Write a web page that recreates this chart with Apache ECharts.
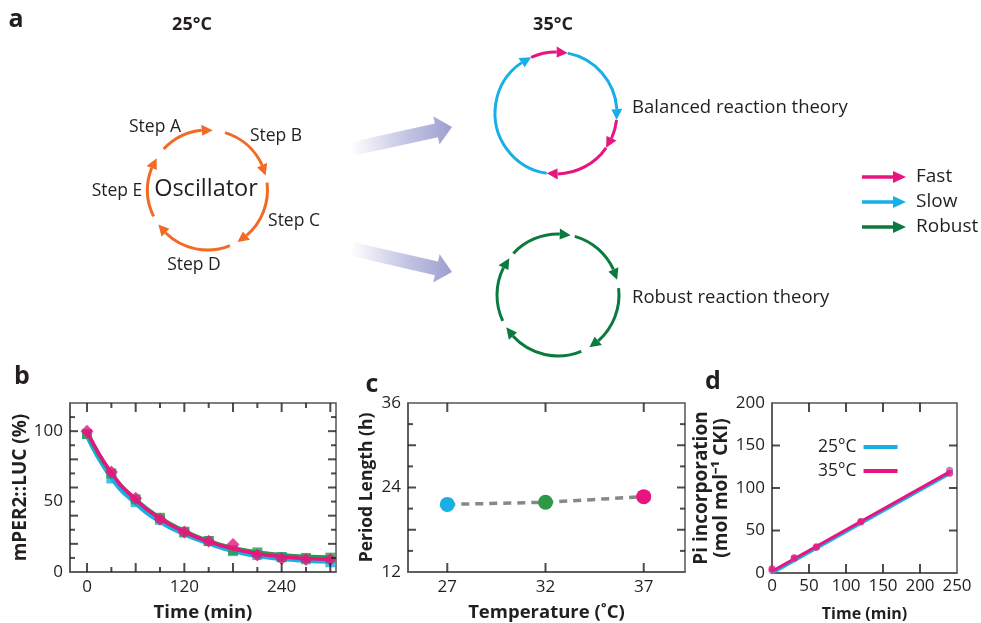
<!DOCTYPE html>
<html>
<head>
<meta charset="utf-8">
<script src="https://cdn.jsdelivr.net/npm/echarts@6/dist/echarts.min.js"></script>
<style>
  html, body { margin: 0; padding: 0; background: #fff; }
  #fig { width: 981px; height: 623px; }
</style>
</head>
<body>
<div id="fig"></div>
<script>
var FONT = 'Open Sans';
var INK = '#231f20';
var PINK = '#e8157f', CYAN = '#18aee6', GREEN = '#0b7a3e', GREEN2 = '#2e9848', ORANGE = '#f26a25';

// b: mPER2::LUC decay (%), measured points and fitted curves
var timeB = [0, 30, 60, 90, 120, 150, 180, 210, 240, 270, 300];
var lucGreen = [98, 70, 51.6, 38.5, 28.6, 22, 15.5, 13.9, 10.5, 10, 10.2];
var lucBlue = [98, 66.4, 49.6, 37, 28, 22, 14.8, 12, 10.6, 9, 6.9];
var lucPink = [100, 71, 52.3, 37.4, 28.4, 21.9, 19.6, 12, 9.6, 8.8, 8.8];
var fitGreen = [99, 70, 51.5, 38.5, 29, 22, 17, 14, 12, 11, 10.5];
var fitBlue = [98, 68, 49.5, 36.5, 27.5, 21, 15.5, 12, 10, 8.5, 8];
var fitPink = [100, 70.5, 51.5, 38, 28.5, 21.5, 16.5, 13, 11, 9.5, 9];
var xLabelsB = [0, 120, 240];
var yLabelsB = [0, 50, 100];
var xMajorB = [0, 60, 120, 180, 240, 300];
var xMinorB = [30, 90, 150, 210, 270];
var yMajorB = [20, 40, 60, 80, 100];
var yMinorB = [10, 30, 50, 70, 90, 110];

// c: period length vs temperature
var tempC = [27, 32, 37];
var periodC = [21.6, 21.9, 22.7];
var yLabelsC = [12, 24, 36];
var yMajorC = [18, 24, 30];
var yMinorC = [15, 21, 27, 33];

// d: Pi incorporation
var timeD = [0, 30, 60, 120, 240];
var pi25 = [3, 17, 30, 60, 121];
var pi35 = [5, 18, 31, 60.5, 117.5];
var fitT = [0, 240];
var fit25 = [0, 117];
var fit35 = [2, 119];
var xLabelsD = [0, 50, 100, 150, 200, 250];
var yLabelsD = [0, 50, 100, 150, 200];
var xTicksD = [50, 100, 150, 200];
var yTicksD = [50, 100, 150];

// axis extents
var extB = { x: [-21, 307], y: [0, 120] };
var extC = { x: [25, 39.1], y: [12, 36] };
var extD = { x: [0, 250], y: [0, 200] };

function pairs(xs, ys) {
  return xs.map(function (x, i) { return [x, ys[i]]; });
}

var labelFont = { fontSize: 17, color: INK, fontFamily: FONT };
var nameFont = { fontSize: 18.5, fontWeight: 'bold', color: INK, fontFamily: FONT };

function axis(grid, ext, labels, name, nameGap, nameStyle, margin) {
  return {
    type: 'value', gridIndex: grid, min: ext[0], max: ext[1],
    axisLine: { show: true, onZero: false, lineStyle: { color: '#555', width: 1.5 } },
    axisTick: { show: false },
    axisLabel: Object.assign({ show: true, customValues: labels, margin: margin || 7 }, labelFont),
    splitLine: { show: false },
    name: name, nameLocation: 'middle', nameGap: nameGap,
    nameTextStyle: Object.assign({}, nameFont, nameStyle || {})
  };
}

// inside tick marks, drawn as thin rect symbols placed on the frame through the axes
function ticks(idx, ext, side, vals, len) {
  var data, size, off;
  if (side === 'bottom' || side === 'top') {
    var yv = side === 'bottom' ? ext.y[0] : ext.y[1];
    data = vals.map(function (v) { return [v, yv]; });
    size = [2, len];
    off = [0, side === 'bottom' ? -len / 2 : len / 2];
  } else {
    var xv = side === 'left' ? ext.x[0] : ext.x[1];
    data = vals.map(function (v) { return [xv, v]; });
    size = [len, 2];
    off = [side === 'left' ? len / 2 : -len / 2, 0];
  }
  return {
    type: 'scatter', xAxisIndex: idx, yAxisIndex: idx, data: data, silent: true, clip: false,
    symbol: 'rect', symbolSize: size, symbolOffset: off, itemStyle: { color: INK }, z: 10
  };
}
function frameTicks(idx, ext, xMaj, xMin, yMaj, yMin) {
  var out = [];
  [['bottom', xMaj, 9], ['top', xMaj, 9], ['bottom', xMin, 5], ['top', xMin, 5],
   ['left', yMaj, 8], ['right', yMaj, 8], ['left', yMin, 5], ['right', yMin, 5]].forEach(function (t) {
    if (t[1].length) out.push(ticks(idx, ext, t[0], t[1], t[2]));
  });
  return out;
}

// ---------- panel a diagram ----------
var D2R = Math.PI / 180;
function ring(cx, cy, r, segs, out) {
  segs.forEach(function (s) {
    var a0 = s[0] * D2R, a1 = s[1] * D2R;
    var L = 11, hw = 5.5;
    var aBase = s[3] ? a1 - L / r : a1;
    out.push({
      type: 'arc',
      shape: { cx: cx, cy: cy, r: r, startAngle: a0, endAngle: aBase, clockwise: true },
      style: { stroke: s[2], lineWidth: 3, fill: null }
    });
    if (s[3]) {
      var tx = cx + r * Math.cos(a1), ty = cy + r * Math.sin(a1);
      var bx = cx + r * Math.cos(aBase), by = cy + r * Math.sin(aBase);
      var nx = Math.cos(aBase), ny = Math.sin(aBase);
      out.push({
        type: 'polygon',
        shape: { points: [[tx, ty], [bx + nx * hw, by + ny * hw], [bx - nx * hw, by - ny * hw]] },
        style: { fill: s[2] }
      });
    }
  });
}
function bigArrow(x0, y0, x1, y1) {
  var dx = x1 - x0, dy = y1 - y0, len = Math.sqrt(dx * dx + dy * dy);
  var ux = dx / len, uy = dy / len, nx = -uy, ny = ux;
  var sw = 7, hw = 14.5, hl = 16;
  var bx = x1 - ux * hl, by = y1 - uy * hl;
  return {
    type: 'polygon',
    shape: { points: [
      [x0 + nx * sw, y0 + ny * sw], [bx + nx * sw, by + ny * sw], [bx + nx * hw, by + ny * hw],
      [x1, y1], [bx - nx * hw, by - ny * hw], [bx - nx * sw, by - ny * sw], [x0 - nx * sw, y0 - ny * sw]
    ] },
    style: {
      fill: { type: 'linear', x: 0, y: 0, x2: 1, y2: 0, colorStops: [
        { offset: 0, color: 'rgba(170,172,215,0)' },
        { offset: 0.55, color: 'rgba(170,172,215,0.7)' },
        { offset: 1, color: '#9c9ecf' }
      ] }
    }
  };
}
function txt(x, y, s, size, opts) {
  return {
    type: 'text', x: x, y: y,
    style: Object.assign({
      text: s, fontSize: size, fontFamily: FONT, fill: INK, align: 'center', verticalAlign: 'middle'
    }, opts || {})
  };
}
function legendArrow(y, color, label, out) {
  out.push({ type: 'line', shape: { x1: 862, y1: y, x2: 895, y2: y }, style: { stroke: color, lineWidth: 3.5 } });
  out.push({ type: 'polygon', shape: { points: [[906, y], [893, y - 6], [893, y + 6]] }, style: { fill: color } });
  out.push(txt(916, y, label, 19, { align: 'left' }));
}

var g = [];
g.push(txt(16, 20, 'a', 25, { fontWeight: 'bold' }));
g.push(txt(192, 25, '25°C', 18, { fontWeight: 'bold' }));
g.push(txt(553, 25, '35°C', 18, { fontWeight: 'bold' }));
ring(207.5, 190, 60, [
  [223, 275, ORANGE, 1], [287, 346, ORANGE, 1], [353, 420, ORANGE, 1],
  [428, 505, ORANGE, 1], [514, 572, ORANGE, 1]
], g);
g.push(txt(206, 189, 'Oscillator', 23.5));
g.push(txt(155, 127, 'Step A', 17.5));
g.push(txt(276, 136, 'Step B', 17.5));
g.push(txt(294, 221, 'Step C', 17.5));
g.push(txt(194, 265, 'Step D', 17.5));
g.push(txt(117, 191, 'Step E', 17.5));
g.push(bigArrow(352, 149, 452, 127));
g.push(bigArrow(352, 249, 452, 272));
ring(556, 113, 61, [
  [98.8, 246, CYAN, 1], [246, 281, PINK, 1], [281, 366.6, CYAN, 1],
  [366.6, 394.8, PINK, 1], [394.8, 458.8, PINK, 1]
], g);
ring(558, 295, 61, [
  [223, 282, GREEN, 1], [286, 345.6, GREEN, 1], [353.6, 419, GREEN, 1],
  [427.6, 508, GREEN, 1], [515, 577, GREEN, 1]
], g);
g.push(txt(632, 108, 'Balanced reaction theory', 18.5, { align: 'left' }));
g.push(txt(632, 298, 'Robust reaction theory', 18.5, { align: 'left' }));
legendArrow(177, PINK, 'Fast', g);
legendArrow(202, CYAN, 'Slow', g);
legendArrow(227, GREEN, 'Robust', g);
g.push(txt(22, 377, 'b', 25, { fontWeight: 'bold' }));
g.push(txt(372, 385, 'c', 25, { fontWeight: 'bold' }));
g.push(txt(713, 382, 'd', 25, { fontWeight: 'bold' }));

var series = [
  // b fitted curves
  { type: 'line', name: 'bBlueFit', xAxisIndex: 0, yAxisIndex: 0, data: pairs(timeB, fitBlue), smooth: true,
    symbol: 'none', lineStyle: { color: CYAN, width: 6 }, z: 2 },
  { type: 'line', name: 'bGreenFit', xAxisIndex: 0, yAxisIndex: 0, data: pairs(timeB, fitGreen), smooth: true,
    symbol: 'none', lineStyle: { color: GREEN2, width: 4 }, z: 3 },
  { type: 'line', name: 'bPinkFit', xAxisIndex: 0, yAxisIndex: 0, data: pairs(timeB, fitPink), smooth: true,
    symbol: 'none', lineStyle: { color: PINK, width: 3.5 }, z: 6 },
  // b points
  { type: 'scatter', name: 'bBlue', xAxisIndex: 0, yAxisIndex: 0, data: pairs(timeB, lucBlue),
    symbol: 'rect', symbolSize: 10, itemStyle: { color: CYAN }, z: 4 },
  { type: 'scatter', name: 'bGreen', xAxisIndex: 0, yAxisIndex: 0, data: pairs(timeB, lucGreen),
    symbol: 'rect', symbolSize: 10, itemStyle: { color: GREEN2 }, z: 5 },
  { type: 'scatter', name: 'bPink', xAxisIndex: 0, yAxisIndex: 0, data: pairs(timeB, lucPink),
    symbol: 'diamond', symbolSize: 13, itemStyle: { color: PINK }, z: 7 },
  // c
  { type: 'line', name: 'cPeriod', xAxisIndex: 1, yAxisIndex: 1,
    data: pairs(tempC, periodC).map(function (p, i) {
      return { value: p, itemStyle: { color: [CYAN, GREEN2, PINK][i] } };
    }),
    symbol: 'circle', symbolSize: 15, lineStyle: { color: '#888', width: 3.5, type: [8, 6] } },
  // d
  { type: 'line', name: '25°C', xAxisIndex: 2, yAxisIndex: 2, data: pairs(fitT, fit25),
    symbol: 'none', lineStyle: { color: CYAN, width: 3.5 }, itemStyle: { color: CYAN }, z: 2 },
  { type: 'line', name: '35°C', xAxisIndex: 2, yAxisIndex: 2, data: pairs(fitT, fit35),
    symbol: 'none', lineStyle: { color: PINK, width: 3 }, itemStyle: { color: PINK }, z: 3 },
  { type: 'scatter', name: 'd25pts', xAxisIndex: 2, yAxisIndex: 2, data: pairs(timeD, pi25),
    symbolSize: 7, itemStyle: { color: '#b05bb0' }, z: 4 },
  { type: 'scatter', name: 'd35pts', xAxisIndex: 2, yAxisIndex: 2, data: pairs(timeD, pi35),
    symbolSize: 7, itemStyle: { color: PINK }, z: 5 }
];
series = series
  .concat(frameTicks(0, extB, xMajorB, xMinorB, yMajorB, yMinorB))
  .concat(frameTicks(1, extC, tempC, [], yMajorC, yMinorC))
  .concat(frameTicks(2, extD, xTicksD, [], yTicksD, []));

var frame = { show: true, borderColor: '#555', borderWidth: 1.5, backgroundColor: 'transparent' };
var chart = echarts.init(document.getElementById('fig'), null, { renderer: 'canvas' });
var option = {
  backgroundColor: '#fff',
  animation: false,
  textStyle: { fontFamily: FONT },
  grid: [
    Object.assign({ left: 70, top: 403, width: 266, height: 175 }, frame),
    Object.assign({ left: 408, top: 403, width: 277, height: 175 }, frame),
    Object.assign({ left: 772, top: 403, width: 185, height: 174 }, frame)
  ],
  xAxis: [
    axis(0, extB.x, xLabelsB, 'Time (min)', 31),
    axis(1, extC.x, tempC, 'Temperature (˚C)', 31),
    axis(2, extD.x, xLabelsD, 'Time (min)', 33, { fontSize: 16 }, 5)
  ],
  yAxis: [
    axis(0, extB.y, yLabelsB, 'mPER2::LUC (%)', 38, { fontSize: 19 }),
    axis(1, extC.y, yLabelsC, 'Period Length (h)', 32, { fontSize: 17.5 }),
    axis(2, extD.y, yLabelsD, 'Pi incorporation\n(mol mol\u207B\u00B9 CKI)', 34, { fontSize: 19, lineHeight: 20 })
  ],
  legend: [{
    data: ['25°C', '35°C'], orient: 'vertical', left: 813, top: 433,
    align: 'right', icon: 'rect', itemWidth: 34, itemHeight: 4, itemGap: 6,
    textStyle: { fontSize: 17.5, color: INK, fontFamily: FONT, padding: [0, 2, 0, 0] }
  }],
  series: series,
  graphic: { elements: g }
};
chart.setOption(option);
</script>
</body>
</html>
